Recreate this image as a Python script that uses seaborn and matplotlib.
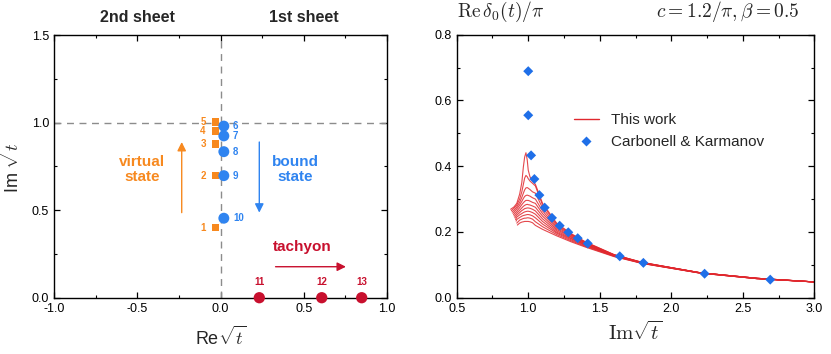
import numpy as np
import pandas as pd
import matplotlib
matplotlib.use("Agg")
import matplotlib.pyplot as plt
from matplotlib.ticker import MultipleLocator
from matplotlib.lines import Line2D
import seaborn as sns

sns.set_theme(style="white")
plt.rcParams['font.family'] = ['Liberation Sans', 'DejaVu Sans']
plt.rcParams['mathtext.fontset'] = 'cm'
plt.rcParams['axes.unicode_minus'] = False

# ---------------- left panel data: pole trajectories ----------------
virtual_re = [-0.03, -0.03, -0.03, -0.03, -0.03]
virtual_im = [0.40, 0.697, 0.878, 0.953, 1.004]
virtual_lbl = ["1", "2", "3", "4", "5"]

bound_re = [0.02, 0.02, 0.02, 0.02, 0.02]
bound_im = [0.98, 0.924, 0.834, 0.697, 0.454]
bound_lbl = ["6", "7", "8", "9", "10"]

tachyon_re = [0.233, 0.608, 0.848]
tachyon_im = [0.0, 0.0, 0.0]
tachyon_lbl = ["11", "12", "13"]

# ---------------- right panel data ----------------
ck_x = [1.0, 1.0, 1.02, 1.043, 1.078, 1.115, 1.166, 1.22, 1.28, 1.346, 1.416,
        1.64, 1.805, 2.233, 2.692]
ck_y = [0.689, 0.555, 0.433, 0.361, 0.312, 0.274, 0.243, 0.219, 0.199, 0.181,
        0.165, 0.126, 0.106, 0.073, 0.055]

# starting points of each "This work" curve
start_x = [0.877, 0.882, 0.887, 0.892, 0.897, 0.902, 0.906, 0.911, 0.915, 0.920, 0.924]
start_y = [0.269, 0.265, 0.261, 0.257, 0.252, 0.248, 0.243, 0.238, 0.233, 0.227, 0.221]

# common Im sqrt(t) grid after the start
grid_x = [0.90, 0.92, 0.94, 0.955, 0.966, 0.975, 0.984, 0.993, 1.0, 1.012, 1.03,
          1.05, 1.1, 1.2, 1.3, 1.4, 1.6, 1.8, 2.2, 2.6, 3.0]

N = None
curve_1 = [0.276, 0.287, 0.315, 0.350, 0.398, 0.428, 0.441, 0.419, 0.388, 0.368, 0.355,
           0.345, 0.287, 0.226, 0.195, 0.170, 0.131, 0.107, 0.076, 0.059, 0.048]
curve_2 = [0.272, 0.282, 0.300, 0.322, 0.345, 0.364, 0.372, 0.368, 0.362, 0.355, 0.348,
           0.340, 0.282, 0.223, 0.193, 0.169, 0.131, 0.107, 0.076, 0.059, 0.048]
curve_3 = [0.266, 0.276, 0.290, 0.305, 0.318, 0.328, 0.334, 0.335, 0.333, 0.329, 0.322,
           0.318, 0.273, 0.219, 0.191, 0.167, 0.130, 0.107, 0.076, 0.059, 0.048]
curve_4 = [0.260, 0.270, 0.282, 0.293, 0.302, 0.308, 0.311, 0.312, 0.311, 0.309, 0.304,
           0.300, 0.264, 0.215, 0.189, 0.166, 0.130, 0.106, 0.076, 0.059, 0.048]
curve_5 = [0.254, 0.263, 0.274, 0.283, 0.289, 0.293, 0.296, 0.296, 0.296, 0.294, 0.290,
           0.287, 0.256, 0.211, 0.186, 0.164, 0.129, 0.106, 0.076, 0.059, 0.048]
curve_6 = [N, 0.257, 0.266, 0.273, 0.278, 0.281, 0.283, 0.284, 0.283, 0.282, 0.279,
           0.275, 0.248, 0.207, 0.184, 0.163, 0.129, 0.106, 0.076, 0.059, 0.048]
curve_7 = [N, 0.251, 0.259, 0.265, 0.268, 0.271, 0.272, 0.273, 0.273, 0.272, 0.269,
           0.264, 0.240, 0.203, 0.181, 0.161, 0.128, 0.105, 0.076, 0.058, 0.048]
curve_8 = [N, 0.245, 0.252, 0.256, 0.259, 0.261, 0.262, 0.263, 0.263, 0.262, 0.259,
           0.254, 0.232, 0.199, 0.179, 0.160, 0.127, 0.105, 0.075, 0.058, 0.048]
curve_9 = [N, 0.238, 0.244, 0.248, 0.250, 0.251, 0.252, 0.253, 0.253, 0.252, 0.249,
           0.243, 0.224, 0.196, 0.176, 0.158, 0.127, 0.105, 0.075, 0.058, 0.048]
curve_10 = [N, N, 0.236, 0.239, 0.241, 0.242, 0.242, 0.243, 0.243, 0.242, 0.239,
            0.231, 0.216, 0.192, 0.173, 0.156, 0.126, 0.104, 0.075, 0.058, 0.048]
curve_11 = [N, N, 0.227, 0.230, 0.231, 0.232, 0.232, 0.232, 0.232, 0.231, 0.228,
            0.220, 0.208, 0.188, 0.170, 0.154, 0.125, 0.104, 0.075, 0.058, 0.048]
curves = [curve_1, curve_2, curve_3, curve_4, curve_5, curve_6, curve_7,
          curve_8, curve_9, curve_10, curve_11]

rows = []
for i, ys in enumerate(curves):
    rows.append((i, 0, start_x[i], start_y[i]))
    k = 1
    for gx, gy in zip(grid_x, ys):
        if gy is None:
            continue
        rows.append((i, k, gx, gy))
        k += 1
tw = pd.DataFrame(rows, columns=["curve", "order", "x", "y"])

ck = pd.DataFrame({"x": ck_x, "y": ck_y})

# ---------------- colors ----------------
ORANGE = "#f7891f"
BLUE = "#2f84f0"
RED = "#c8102e"
LINE_RED = "#e0282e"
DIAM = "#1f6fe8"

fig = plt.figure(figsize=(8.31, 3.54), dpi=100)
axL = fig.add_axes([0.065, 0.159, 0.4007, 0.742])
axR = fig.add_axes([0.5496, 0.159, 0.4303, 0.743])

# ================= left panel =================
axL.axvline(0, color="#8c8c8c", ls=(0, (5, 4)), lw=1.0, zorder=1)
axL.axhline(1.0, color="#8c8c8c", ls=(0, (5, 4)), lw=1.0, zorder=1)

vdf = pd.DataFrame({"re": virtual_re, "im": virtual_im})
bdf = pd.DataFrame({"re": bound_re, "im": bound_im})
tdf = pd.DataFrame({"re": tachyon_re, "im": tachyon_im})
sns.scatterplot(data=vdf, x="re", y="im", ax=axL, marker="s", s=30, color=ORANGE,
                edgecolor="none", zorder=3)
sns.scatterplot(data=bdf, x="re", y="im", ax=axL, marker="o", s=62, color=BLUE,
                edgecolor="none", zorder=4)
sns.scatterplot(data=tdf, x="re", y="im", ax=axL, marker="o", s=66, color=RED,
                edgecolor="none", zorder=5, clip_on=False)

for x, y, t in zip(virtual_re, virtual_im, virtual_lbl):
    axL.text(x - 0.075, y, t, color=ORANGE, fontsize=7, fontweight="bold",
             ha="center", va="center")
for x, y, t in zip(bound_re, bound_im, bound_lbl):
    axL.text(x + 0.055, y, t, color=BLUE, fontsize=7, fontweight="bold",
             ha="left", va="center")
for x, y, t in zip(tachyon_re, tachyon_im, tachyon_lbl):
    axL.text(x, y + 0.088, t, color=RED, fontsize=7, fontweight="bold",
             ha="center", va="center")

axL.text(-0.47, 0.73, "virtual\nstate", color=ORANGE, fontsize=11, fontweight="bold",
         ha="center", va="center", linespacing=1.1)
axL.text(0.45, 0.73, "bound\nstate", color=BLUE, fontsize=11, fontweight="bold",
         ha="center", va="center", linespacing=1.1)
axL.text(0.49, 0.29, "tachyon", color=RED, fontsize=11, fontweight="bold",
         ha="center", va="center")

axL.annotate("", xy=(-0.233, 0.905), xytext=(-0.233, 0.47),
             arrowprops=dict(arrowstyle="-|>", color=ORANGE, lw=1.0, mutation_scale=13))
axL.annotate("", xy=(0.233, 0.47), xytext=(0.233, 0.905),
             arrowprops=dict(arrowstyle="-|>", color=BLUE, lw=1.0, mutation_scale=13))
axL.annotate("", xy=(0.77, 0.177), xytext=(0.314, 0.177),
             arrowprops=dict(arrowstyle="-|>", color=RED, lw=1.0, mutation_scale=13))

axL.set_xlim(-1.0, 1.0)
axL.set_ylim(0.0, 1.5)
axL.xaxis.set_major_locator(MultipleLocator(0.5))
axL.xaxis.set_minor_locator(MultipleLocator(0.25))
axL.yaxis.set_major_locator(MultipleLocator(0.5))
axL.yaxis.set_minor_locator(MultipleLocator(0.25))
axL.set_xlabel(r"Re$\sqrt{t}$", fontsize=13, labelpad=8)
axL.set_ylabel(r"Im $\sqrt{t}$", fontsize=13, labelpad=6)
axL.text(0.25, 1.04, "2nd sheet", transform=axL.transAxes, fontsize=11.5,
         fontweight="bold", ha="center", va="bottom")
axL.text(0.75, 1.04, "1st sheet", transform=axL.transAxes, fontsize=11.5,
         fontweight="bold", ha="center", va="bottom")

# ================= right panel =================
sns.lineplot(data=tw, x="x", y="y", units="curve", estimator=None, sort=False,
             ax=axR, color=LINE_RED, lw=0.8, alpha=0.85, legend=False)
sns.scatterplot(data=ck, x="x", y="y", ax=axR, marker="D", s=26, color=DIAM,
                edgecolor="none", zorder=5, legend=False)

axR.set_xlim(0.5, 3.0)
axR.set_ylim(0.0, 0.8)
axR.xaxis.set_major_locator(MultipleLocator(0.5))
axR.xaxis.set_minor_locator(MultipleLocator(0.25))
axR.yaxis.set_major_locator(MultipleLocator(0.2))
axR.yaxis.set_minor_locator(MultipleLocator(0.1))
axR.set_xlabel(r"$\mathrm{Im}\sqrt{t}$", fontsize=15, labelpad=4)
axR.set_ylabel("")
axR.text(0.0, 1.04, r"$\mathrm{Re}\,\delta_0(t)/\pi$", transform=axR.transAxes,
         fontsize=14, ha="left", va="bottom")
axR.text(0.96, 1.04, r"$c=1.2/\pi, \beta=0.5$", transform=axR.transAxes,
         fontsize=14, ha="right", va="bottom")
handles = [Line2D([], [], color=LINE_RED, lw=1.0),
           Line2D([], [], color=DIAM, marker="D", ls="none", markersize=5,
                  markeredgecolor="none")]
axR.legend(handles, ["This work", "Carbonell & Karmanov"], loc="upper left",
           bbox_to_anchor=(0.29, 0.755), frameon=False, fontsize=11,
           handlelength=1.6, labelspacing=0.55)

for ax in (axL, axR):
    ax.tick_params(which="both", direction="in", top=True, right=True,
                   bottom=True, left=True, colors="black", labelsize=9)
    ax.tick_params(which="major", length=4, width=0.9)
    ax.tick_params(which="minor", length=2.5, width=0.8)
    for sp in ax.spines.values():
        sp.set_color("black")
        sp.set_linewidth(1.0)
    ax.grid(False)

fig.savefig("out.png", dpi=100)
